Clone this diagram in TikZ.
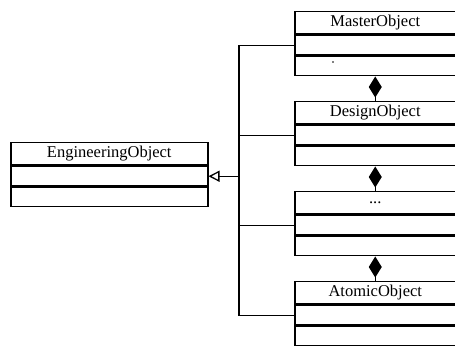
\documentclass[tikz,border=0pt]{standalone}
\usepackage{fontspec}
\setmainfont{Liberation Serif}
\usetikzlibrary{arrows.meta}
\begin{document}
\begin{tikzpicture}[x=1pt,y=1pt,
    classpart/.style={draw, line width=1.5pt, anchor=north west, inner sep=0pt,
      font=\fontsize{16.5}{18}\selectfont, minimum width=#1},
    title/.style={classpart=#1, minimum height=22pt},
    row/.style={classpart=#1, minimum height=20pt},
    link/.style={line width=1.3pt},
    compose/.style={line width=1.3pt, -{Diamond[length=21pt,width=13pt,fill=black]}},
    inherit/.style={line width=1.3pt, -{Triangle[open,length=11pt,width=11pt,line width=1.3pt]}}]
\useasboundingbox (0,0) rectangle (455,347);
\clip (0,0) rectangle (455,347);

% base class on the left
\node[title=197pt] (eng1) at (10,205) {EngineeringObject};
\node[row=197pt] (eng2) at (eng1.south west) {};
\node[row=197pt, minimum height=19pt] (eng3) at (eng2.south west) {};

% aggregated classes on the right
\node[title=161pt] (mas1) at (294,336) {MasterObject};
\node[row=161pt] (mas2) at (mas1.south west) {};
\node[row=161pt, minimum height=19pt] (mas3) at (mas2.south west) {};

\node[title=161pt] (des1) at (294,246) {DesignObject};
\node[row=161pt] (des2) at (des1.south west) {};
\node[row=161pt, minimum height=19pt] (des3) at (des2.south west) {};

\node[title=161pt] (dot1) at (294,156) {...};
\node[row=161pt] (dot2) at (dot1.south west) {};
\node[row=161pt, minimum height=19pt] (dot3) at (dot2.south west) {};

\node[title=161pt] (ato1) at (294,66) {AtomicObject};
\node[row=161pt] (ato2) at (ato1.south west) {};
\node[row=161pt, minimum height=19pt] (ato3) at (ato2.south west) {};

% small mark in the lowest compartment of MasterObject
\fill (333,285) circle (0.9pt);

% composition chain
\draw[compose] (des1.north) -- (mas3.south);
\draw[compose] (dot1.north) -- (des3.south);
\draw[compose] (ato1.north) -- (dot3.south);

% generalization tree
\coordinate (trunk) at (239,0);
\draw[link] (mas2.west) -- (mas2.west -| trunk) -- (ato2.west -| trunk) -- (ato2.west);
\draw[link] (des2.west) -- (des2.west -| trunk);
\draw[link] (dot2.west) -- (dot2.west -| trunk);
\draw[inherit] (eng2.east -| trunk) -- (eng2.east);
\end{tikzpicture}
\end{document}
